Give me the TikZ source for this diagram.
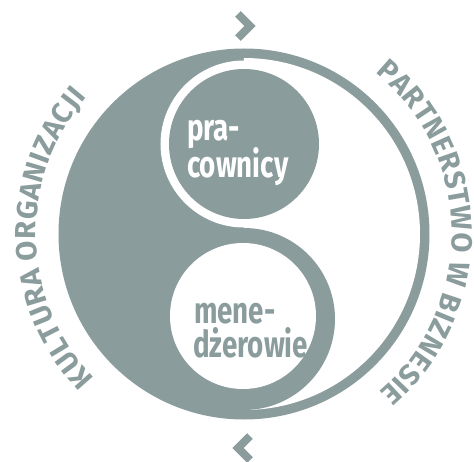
\documentclass[tikz,border=0pt]{standalone}
\usepackage{fontspec}
\setmainfont{Fira Sans}
\newfontfamily\narrowfont[FakeStretch=0.75]{Fira Sans}
\usetikzlibrary{decorations.text}
\definecolor{ringgray}{RGB}{139,156,157}

\begin{document}
\begin{tikzpicture}[x=1pt, y=1pt,
  inner/.style={font=\narrowfont\bfseries\fontsize{37}{37}\selectfont, inner sep=0pt, anchor=base west},
  chevron/.style={draw=ringgray, line width=8pt, miter limit=4}]
  \useasboundingbox (-244,-227) rectangle (230,234);
  \pgfmathsetmacro{\outerR}{185.5}
  \pgfmathsetmacro{\innerR}{176}
  \pgfmathsetmacro{\textR}{208}
  \fill[ringgray] (0,0) circle[radius=\outerR pt];
  \fill[white] (0,\innerR) arc[start angle=90, end angle=-90, radius=\innerR pt] -- cycle;
  \fill[white] (0,90) circle[radius=83.5pt];
  \fill[ringgray] (0,-85) circle[radius=91pt];
  \fill[ringgray] (0,90) circle[radius=75pt];
  \fill[white] (-1,-82) circle[radius=73pt];

  \node[inner, text=white] (pra) at (-57,94) {pra-};
  \node[inner, text=white] (cow) at (-57,57) {cownicy};
  \node[inner, text=ringgray] (mene) at (-50,-89) {mene-};
  \node[inner, text=ringgray] (dze) at (-51,-123) {dżerowie};

  \path[decorate, decoration={text along path, text align=fit to path,
    text={|\color{ringgray}\fontsize{29}{29}\selectfont\bfseries|KULTURA ORGANIZACJI}}]
    (224:\textR pt) arc[start angle=224, end angle=139, radius=\textR pt];
  \path[decorate, decoration={text along path, text align=fit to path,
    text={|\color{ringgray}\fontsize{29}{29}\selectfont\bfseries|PARTNERSTWO W BIZNESIE}}]
    (51:\textR pt) arc[start angle=51, end angle=-49.5, radius=\textR pt];

  \draw[chevron] (-6,220) -- (6,208) -- (-6,196);
  \draw[chevron] (6,-202) -- (-6,-214) -- (6,-226);
\end{tikzpicture}
\end{document}
